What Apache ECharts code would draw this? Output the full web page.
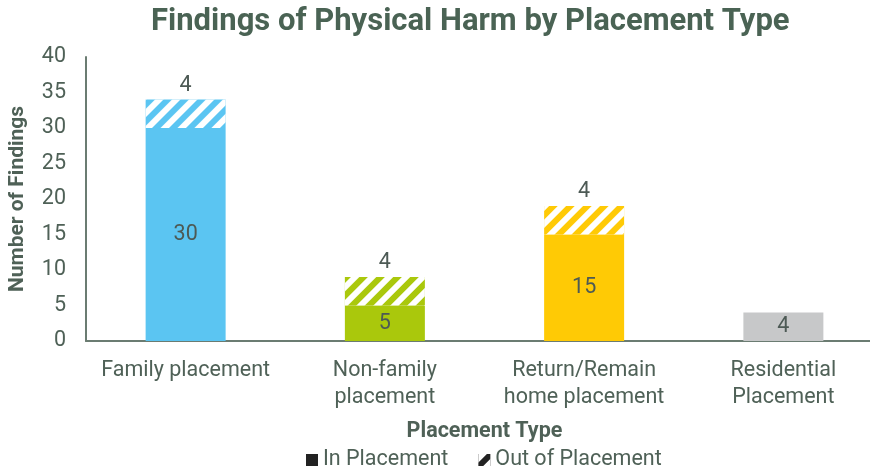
<!DOCTYPE html>
<html>
<head>
<meta charset="utf-8">
<script src="https://cdn.jsdelivr.net/npm/echarts@6/dist/echarts.min.js"></script>
<style>
  html, body { margin: 0; padding: 0; background: #fff; }
  #main { width: 870px; height: 468px; }
</style>
</head>
<body>
<div id="main"></div>
<script>
// 数据
let categories = ['Family placement', 'Non-family\nplacement', 'Return/Remain\nhome placement', 'Residential\nPlacement'];
let inPlacement = [30, 5, 15, 4];
let outPlacement = [4, 4, 4, 0];
let barColors = ['#5bc5f2', '#aac80c', '#ffca05', '#c7c8c9'];
let yTicks = [0, 40, 5];

(function() {
	let myChart = echarts.init(document.getElementById('main'));

	let textColor = '#4f6157';
	let axisColor = '#6b7c72';

	// 斜线纹理
	let hatch = {
		symbol: 'rect',
		color: '#ffffff',
		dashArrayX: [1, 0],
		dashArrayY: [5.5, 5.5],
		rotation: -Math.PI / 4,
		symbolSize: 1
	};

	let option = {
		title: {
			text: 'Findings of Physical Harm by Placement Type',
			left: 146,
			top: 2,
			textStyle: {
				fontFamily: 'Roboto',
				fontSize: 31,
				fontWeight: 'bold',
				color: '#4a6354'
			}
		},
		legend: {
			left: 301,
			top: 444,
			itemWidth: 12,
			itemHeight: 12,
			itemGap: 30,
			icon: 'rect',
			textStyle: {
				fontFamily: 'Roboto',
				fontSize: 21.5,
				color: textColor
			},
			data: ['In Placement', 'Out of Placement']
		},
		grid: {
			left: 86,
			width: 797,
			top: 57,
			bottom: 127,
			outerBoundsMode: 'none'
		},
		xAxis: {
			type: 'category',
			data: categories,
			name: 'Placement Type',
			nameLocation: 'middle',
			nameGap: 80,
			nameTextStyle: {
				fontFamily: 'Roboto',
				fontSize: 21.5,
				fontWeight: 'bold',
				color: textColor
			},
			axisTick: { show: false },
			axisLine: { lineStyle: { color: axisColor, width: 2 } },
			axisLabel: {
				fontFamily: 'Roboto',
				fontSize: 21.5,
				color: textColor,
				lineHeight: 27,
				margin: 16,
				interval: 0
			}
		},
		yAxis: {
			type: 'value',
			min: yTicks[0],
			max: yTicks[1],
			interval: yTicks[2],
			name: 'Number of Findings',
			nameLocation: 'middle',
			nameGap: 58,
			nameTextStyle: {
				fontFamily: 'Roboto',
				fontSize: 21,
				fontWeight: 'bold',
				color: textColor
			},
			splitLine: { show: false },
			axisTick: { show: false },
			axisLine: { show: true, lineStyle: { color: axisColor, width: 2 } },
			axisLabel: {
				fontFamily: 'Roboto',
				fontSize: 21.5,
				color: textColor,
				margin: 20
			}
		},
		series: [
			{
				name: 'In Placement',
				type: 'bar',
				stack: 'total',
				barWidth: 80,
				itemStyle: { color: '#222222' },
				label: {
					show: true,
					position: 'inside',
					fontFamily: 'Roboto',
					fontSize: 21.5,
					color: '#4d5a55'
				},
				data: inPlacement.map(function(v, i) {
					return { value: v, itemStyle: { color: barColors[i] } };
				})
			},
			{
				name: 'Out of Placement',
				type: 'bar',
				stack: 'total',
				barWidth: 80,
				itemStyle: { color: '#222222', decal: hatch },
				label: {
					show: true,
					position: 'top',
					distance: 3,
					fontFamily: 'Roboto',
					fontSize: 21.5,
					color: '#4d5a55',
					formatter: function(p) {
						return p.value ? p.value : '';
					}
				},
				data: outPlacement.map(function(v, i) {
					return { value: v, itemStyle: { color: barColors[i], decal: hatch } };
				})
			}
		]
	};

	myChart.setOption(option);

	window.addEventListener('resize', function() {
		myChart.resize();
	});
})();
</script>
</body>
</html>
